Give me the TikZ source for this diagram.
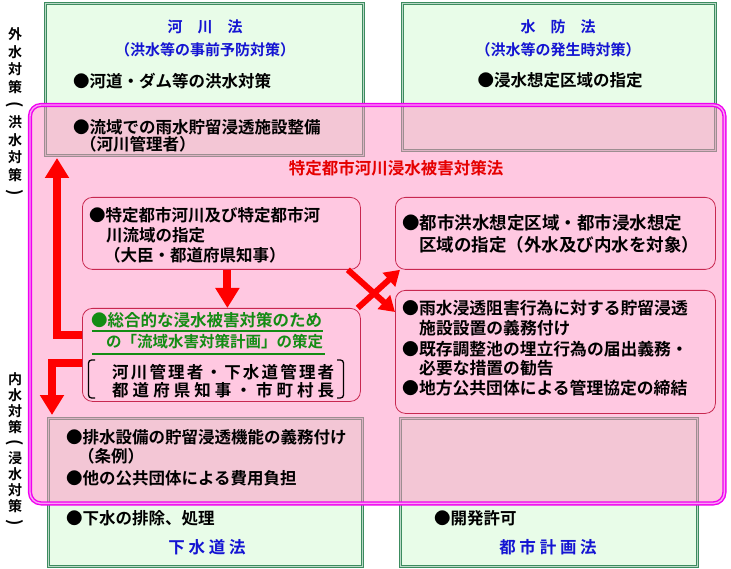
\documentclass[tikz,border=0pt]{standalone}
\usepackage{fontspec}
\setmainfont{Noto Sans CJK JP}[BoldFont={Noto Sans CJK JP Bold}]
\usetikzlibrary{arrows.meta}
\definecolor{gfill}{RGB}{232,252,232}
\definecolor{gline}{RGB}{60,140,95}
\definecolor{pinkbase}{RGB}{255,145,195}
\definecolor{rbox}{RGB}{255,200,225}
\definecolor{rboxline}{RGB}{200,40,80}
\definecolor{ttl}{RGB}{20,20,210}
\definecolor{grtxt}{RGB}{20,140,20}
\definecolor{mag}{RGB}{240,0,240}
\definecolor{magin}{RGB}{250,160,245}
\definecolor{arr}{RGB}{255,0,0}
\newcommand{\vop}{\rotatebox[origin=c]{-90}{\scalebox{1.2}{(}}}
\newcommand{\vcl}{\rotatebox[origin=c]{-90}{\scalebox{1.2}{)}}}
\tikzset{
  greenbox/.style={draw=gline, line width=1.3pt, double=gline!35!white, double distance=0.9pt, fill=gfill, inner sep=0pt},
  redbox/.style={draw=rboxline, line width=0.8pt, fill=rbox, rounded corners=10pt, inner sep=0pt},
  txt/.style={inner sep=0pt, anchor=west, font=\fontsize{16.5}{19}\selectfont\bfseries},
  ctxt/.style={inner sep=0pt, anchor=center, font=\fontsize{16.5}{19}\selectfont\bfseries},
  ttltxt/.style={inner sep=0pt, anchor=center, text=ttl, font=\fontsize{15}{18}\selectfont\bfseries},
  bigarrow/.style={draw=arr, line width=8pt, -{Triangle[width=23pt,length=20pt]}},
  midarrow/.style={draw=arr, line width=6pt, -{Triangle[width=18pt,length=15pt]}},
  vlab/.style={inner sep=0pt, align=center, anchor=center}
}
\begin{document}
\begin{tikzpicture}[x=1pt,y=-1pt]
\useasboundingbox (0,0) rectangle (731,569);
% green law boxes
\node[greenbox, minimum width=318pt, minimum height=152pt, anchor=north west] (gtl) at (45,3) {};
\node[greenbox, minimum width=313pt, minimum height=147pt, anchor=north west] (gtr) at (402,3) {};
\node[greenbox, minimum width=314pt, minimum height=148pt, anchor=north west] (gbl) at (48,418) {};
\node[greenbox, minimum width=297pt, minimum height=148pt, anchor=north west] (gbr) at (400,418) {};
% pink overlay
\node[fill=pinkbase, fill opacity=0.5, rounded corners=11pt, minimum width=694pt, minimum height=398pt, anchor=north west, inner sep=0pt] (pk) at (30,105) {};
\draw[mag, line width=1.4pt, double=magin, double distance=1.4pt, rounded corners=11pt] (pk.north west) rectangle (pk.south east);
% vertical labels
\node[vlab, font=\fontsize{14}{17.6}\selectfont\bfseries] (vout) at (15,113) {外\\水\\対\\策\\\vop\\洪\\水\\対\\策\\\vcl};
\node[vlab, font=\fontsize{14}{15.9}\selectfont\bfseries] (vin) at (15,450) {内\\水\\対\\策\\\vop\\浸\\水\\対\\策\\\vcl};
% top-left law
\node[ttltxt] (t1) at (205,27) {河　川　法};
\node[ttltxt] (t1s) at (205,50) {（洪水等の事前予防対策）};
\node[txt] (t1a) at (73,81) {●河道・ダム等の洪水対策};
\node[txt] (t1b) at (73,127) {●流域での雨水貯留浸透施設整備};
\node[txt] (t1c) at (80,144) {（河川管理者）};
% top-right law
\node[ttltxt] (t2) at (558,27) {水　防　法};
\node[ttltxt] (t2s) at (558,50) {（洪水等の発生時対策）};
\node[ctxt] (t2a) at (560,80) {●浸水想定区域の指定};
% special law title
\node[ctxt, text=arr!90!black] (law) at (396,168) {特定都市河川浸水被害対策法};
% red boxes
\node[redbox, minimum width=278pt, minimum height=72pt, anchor=north west] (A) at (82,197) {};
\node[redbox, minimum width=278pt, minimum height=93pt, anchor=north west] (B) at (82,308) {};
\node[redbox, minimum width=320pt, minimum height=72pt, anchor=north west] (C) at (395,197) {};
\node[redbox, minimum width=320pt, minimum height=123pt, anchor=north west] (D) at (395,290) {};
% box A text
\node[txt] (a1) at (89,215) {●特定都市河川及び特定都市河};
\node[txt] (a2) at (106,235) {川流域の指定};
\node[txt] (a3) at (104,255) {（大臣・都道府県知事）};
% box B text
\node[txt, text=grtxt] (b1) at (91,320) {●総合的な浸水被害対策のため};
\node[txt, text=grtxt, font=\fontsize{15.5}{19}\selectfont\bfseries] (b2) at (106,342) {の「流域水害対策計画」の策定};
\draw[grtxt, line width=1.1pt] (92,331) -- (323,331);
\draw[grtxt, line width=1.1pt] (92,354) -- (325,354);
\node[txt] (b3) at (112,372) {\makebox[222pt][s]{河\hfill 川\hfill 管\hfill 理\hfill 者\hfill ・\hfill 下\hfill 水\hfill 道\hfill 管\hfill 理\hfill 者}};
\node[txt] (b4) at (112,390) {\makebox[222pt][s]{都\hfill 道\hfill 府\hfill 県\hfill 知\hfill 事\hfill ・\hfill 市\hfill 町\hfill 村\hfill 長}};
\draw[line width=1.3pt, rounded corners=3pt] (95,360) -- (88.5,360) -- (88.5,398) -- (95,398);
\draw[line width=1.3pt, rounded corners=3pt] (337,360) -- (343.5,360) -- (343.5,398) -- (337,398);
% box C text
\node[txt, font=\fontsize{17.5}{20}\selectfont\bfseries] (c1) at (402,223) {●都市洪水想定区域・都市浸水想定};
\node[txt, font=\fontsize{17.5}{20}\selectfont\bfseries] (c2) at (419,245) {区域の指定（外水及び内水を対象）};
% box D text
\node[txt, font=\fontsize{16.8}{20}\selectfont\bfseries] (d1) at (402,308) {●雨水浸透阻害行為に対する貯留浸透};
\node[txt, font=\fontsize{16.8}{20}\selectfont\bfseries] (d2) at (419,328) {施設設置の義務付け};
\node[txt, font=\fontsize{16.8}{20}\selectfont\bfseries] (d3) at (402,349) {●既存調整池の埋立行為の届出義務・};
\node[txt, font=\fontsize{16.8}{20}\selectfont\bfseries] (d4) at (419,368) {必要な措置の勧告};
\node[txt, font=\fontsize{16.8}{20}\selectfont\bfseries] (d5) at (402,388) {●地方公共団体による管理協定の締結};
% bottom-left law
\node[txt] (e1) at (66,437) {●排水設備の貯留浸透機能の義務付け};
\node[txt] (e2) at (78,456) {（条例）};
\node[txt] (e3) at (66,478) {●他の公共団体による費用負担};
\node[txt] (e4) at (66,518) {●下水の排除、処理};
\node[ttltxt, font=\fontsize{16.5}{19}\selectfont\bfseries] (t3) at (207,547) {下 水 道 法};
% bottom-right law
\node[txt] (f1) at (434,518) {●開発許可};
\node[ttltxt, font=\fontsize{16.5}{19}\selectfont\bfseries] (t4) at (548,547) {都 市 計 画 法};
% arrows
\coordinate (h1) at (57,335);
\coordinate (upend) at (57,158);
\coordinate (h2) at (52,363);
\coordinate (downend) at (52,415);
\draw[bigarrow] (B.west |- h1) -- (h1) -- (upend);
\draw[bigarrow] (B.west |- h2) -- (h2) -- (downend);
\draw[bigarrow] ([xshift=6pt]A.south) -- ([xshift=6pt]B.north);
\draw[midarrow] ([xshift=-13pt]A.south east) -- ([yshift=-22pt]D.north west);
\draw[midarrow] ([xshift=-3pt]B.north east) -- ([xshift=5pt]C.south west);
\end{tikzpicture}
\end{document}
